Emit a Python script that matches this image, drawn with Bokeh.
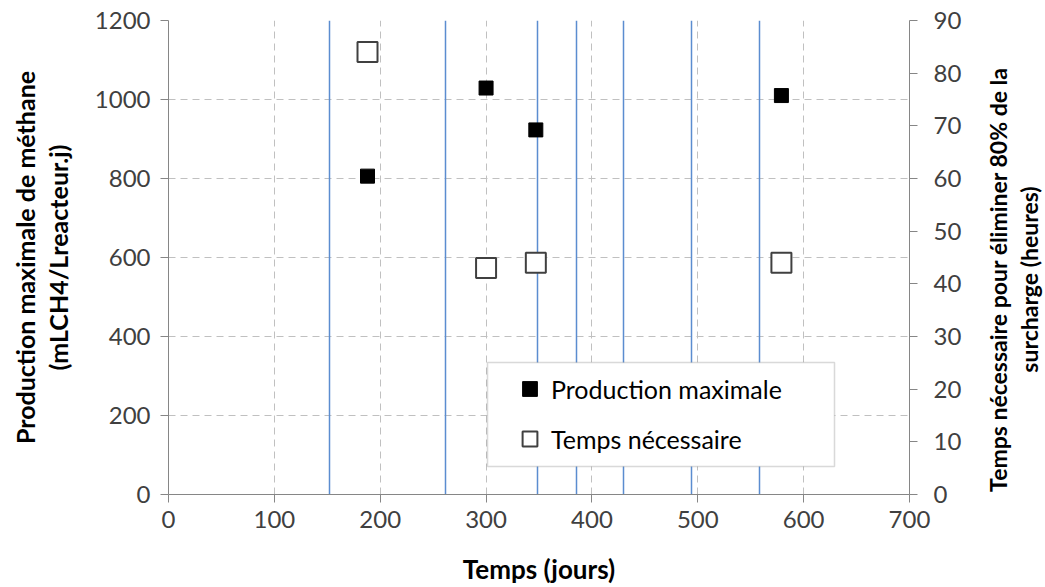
import math
from bokeh.plotting import figure
from bokeh.layouts import row
from bokeh.models import (Range1d, LinearAxis, Legend, LegendItem, BoxAnnotation,
                          FixedTicker, Label)
from bokeh.embed import file_html
from bokeh.resources import INLINE

# ---- data ----
days = [188, 300, 347, 579]
production = [806, 1029, 923, 1010]          # mLCH4/Lreacteur.j (left axis)
temps_necessaire = [84, 43, 44, 44]          # heures (right axis)
events = [152, 262, 349, 385, 430, 494, 558]  # vertical blue lines (jours)
x_ticks = [0, 100, 200, 300, 400, 500, 600, 700]
y_left_ticks = [0, 200, 400, 600, 800, 1000, 1200]
y_right_ticks = [0, 10, 20, 30, 40, 50, 60, 70, 80, 90]

FONT = "Lato"
AXIS_COL = "#868686"
TICK_TXT = "#404040"

p = figure(width=975, height=587, x_range=Range1d(0, 700), y_range=Range1d(0, 1200),
           output_backend="svg", toolbar_location=None,
           min_border_left=168, min_border_right=66, min_border_top=20, min_border_bottom=93,
           x_axis_label="Temps (jours)",
           y_axis_label="Production maximale de méthane\n(mLCH4/Lreacteur.j)")
p.outline_line_color = None
p.background_fill_color = "white"
p.border_fill_color = "white"
p.extra_y_ranges = {"right": Range1d(0, 90)}

# grids
p.xgrid.ticker = FixedTicker(ticks=x_ticks)
p.ygrid.ticker = FixedTicker(ticks=y_left_ticks)
for g in (p.xgrid, p.ygrid):
    g.grid_line_color = "#c0c0c0"
    g.grid_line_dash = "7 5"
    g.grid_line_width = 1

# axes
def style_axis(ax, standoff, label_standoff, label_size):
    ax.axis_line_color = AXIS_COL
    ax.major_tick_line_color = AXIS_COL
    ax.major_tick_in = 0
    ax.major_tick_out = 8
    ax.minor_tick_line_color = None
    ax.major_label_text_font = FONT
    ax.major_label_text_font_size = "24px"
    ax.major_label_text_color = TICK_TXT
    ax.major_label_standoff = standoff
    ax.axis_label_text_font = FONT
    ax.axis_label_text_font_size = label_size
    ax.axis_label_text_font_style = "bold"
    ax.axis_label_text_color = "black"
    ax.axis_label_text_line_height = 1.1
    ax.axis_label_standoff = label_standoff

xa = p.xaxis[0]
xa.ticker = FixedTicker(ticks=x_ticks)
style_axis(xa, 8, 22, "26px")
ya = p.yaxis[0]
ya.ticker = FixedTicker(ticks=y_left_ticks)
style_axis(ya, 10, 19, "25px")

ra = LinearAxis(y_range_name="right", ticker=FixedTicker(ticks=y_right_ticks))
style_axis(ra, 16, 26, "23px")
p.add_layout(ra, "right")

# vertical event lines
p.vspan(x=events, line_color="#5b8dd0", line_width=1.5)

# points
r1 = p.scatter(days, production, marker="square", size=14,
               fill_color="black", line_color="black")
r2 = p.scatter(days, temps_necessaire, y_range_name="right", marker="square", size=20,
               fill_color="white", line_color="#404040", line_width=2)

# legend frame
box = BoxAnnotation(left=319, right=666, bottom=28, top=132,
                    left_units="screen", right_units="screen",
                    bottom_units="screen", top_units="screen",
                    fill_color="white", fill_alpha=1.0,
                    line_color="#808080", line_width=1.5)
p.add_layout(box)

legend = Legend(items=[LegendItem(label="Production maximale", renderers=[r1]),
                       LegendItem(label="Temps nécessaire", renderers=[r2])],
                location=(343, 37), padding=0, spacing=13, margin=0,
                glyph_width=37, glyph_height=37, label_standoff=3,
                border_line_alpha=0, background_fill_alpha=0,
                label_text_font=FONT, label_text_font_size="25px",
                label_text_color="black")
p.add_layout(legend)

# narrow companion panel holding the right-axis title (reads bottom-to-top)
p2 = figure(width=70, height=587, x_range=Range1d(0, 1), y_range=Range1d(0, 1),
            output_backend="svg", toolbar_location=None,
            x_axis_type=None, y_axis_type=None,
            min_border_left=0, min_border_right=0, min_border_top=0, min_border_bottom=0)
p2.outline_line_color = None
p2.grid.visible = False
p2.background_fill_color = "white"
p2.border_fill_color = "white"
rlabel = Label(x=38, y=215, x_units="screen", y_units="screen", angle=math.pi / 2,
               text="Temps nécessaire pour éliminer 80% de la\nsurcharge (heures)",
               text_align="center", text_baseline="middle",
               text_font=FONT, text_font_size="23px", text_font_style="bold",
               text_color="black", text_line_height=1.1)
p2.add_layout(rlabel)

layout = row(p, p2, spacing=0)
open("out.html", "w").write(file_html(layout, INLINE))
